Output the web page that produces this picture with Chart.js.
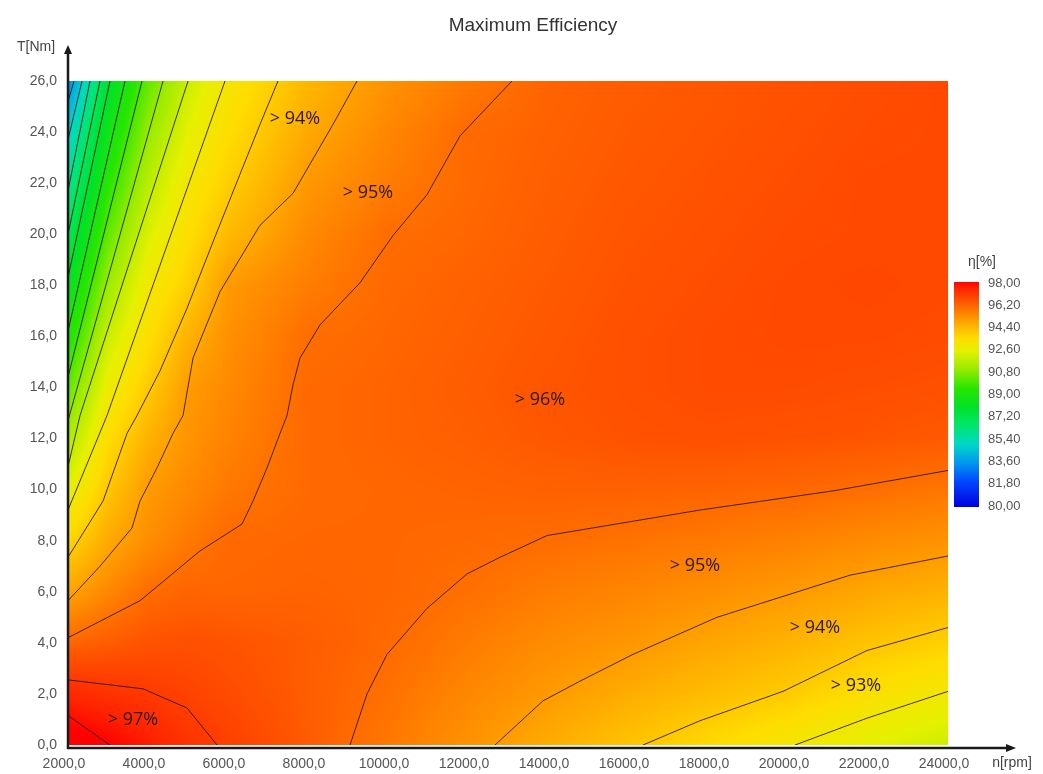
<!DOCTYPE html>
<html>
<head>
<meta charset="utf-8">
<title>Maximum Efficiency</title>
<script src="https://cdn.jsdelivr.net/npm/chart.js@4.4.1/dist/chart.umd.min.js"></script>
<style>
  html, body { margin: 0; padding: 0; background: #fff; }
  #wrap { width: 1043px; height: 774px; }
</style>
</head>
<body>
<div id="wrap"><canvas id="effMap" width="1043" height="774"></canvas></div>
<script>
// grid of the map: speed columns, torque rows
const speedRpm = [2000, 3000, 4000, 5000, 6000, 8000, 10000, 12000, 14000, 16000, 18000, 20000, 22000, 24000];
const torqueNm = [0, 2, 4, 6, 8, 10, 12, 14, 16, 18, 20, 22, 24, 26];

// efficiency [%] per torque row, one value per speed column
const effT0  = [98.3, 98.0, 97.64, 97.2, 96.92, 96.32, 95.74, 95.19, 94.64, 94.10, 93.57, 93.05, 92.5, 92.0];
const effT2  = [97.41, 97.22, 97.05, 96.84, 96.65, 96.28, 95.89, 95.43, 95.03, 94.62, 94.27, 93.91, 93.36, 92.95];
const effT4  = [96.12, 96.3, 96.5, 96.55, 96.48, 96.3, 96.03, 95.67, 95.34, 95.1, 94.79, 94.49, 94.1, 93.76];
const effT6  = [94.79, 95.43, 95.96, 96.15, 96.1, 96.15, 96.1, 95.91, 95.65, 95.48, 95.27, 95.04, 94.75, 94.5];
const effT8  = [93.64, 94.68, 95.29, 95.71, 96.05, 96.1, 96.1, 96.05, 95.97, 95.86, 95.72, 95.56, 95.36, 95.18];
const effT10 = [92.51, 94.03, 95.02, 95.38, 95.74, 96.05, 96.1, 96.15, 96.2, 96.2, 96.15, 96.08, 95.94, 95.78];
const effT12 = [91.38, 93.44, 94.5, 95.16, 95.53, 96.05, 96.15, 96.25, 96.4, 96.5, 96.55, 96.5, 96.45, 96.35];
const effT14 = [90.23, 92.76, 93.91, 95.0, 95.38, 96.05, 96.15, 96.3, 96.45, 96.55, 96.65, 96.65, 96.6, 96.55];
const effT16 = [89.13, 91.96, 93.38, 94.49, 95.23, 95.95, 96.1, 96.25, 96.4, 96.55, 96.65, 96.7, 96.7, 96.65];
const effT18 = [88.15, 91.12, 92.91, 93.82, 95.03, 95.63, 96.05, 96.2, 96.35, 96.5, 96.6, 96.7, 96.75, 96.7];
const effT20 = [87.0, 90.27, 92.27, 93.4, 94.31, 95.38, 95.96, 96.1, 96.3, 96.45, 96.55, 96.65, 96.7, 96.7];
const effT22 = [85.86, 89.44, 91.63, 93.01, 93.82, 95.07, 95.66, 96.05, 96.25, 96.4, 96.5, 96.6, 96.7, 96.7];
const effT24 = [84.8, 88.64, 91.0, 92.47, 93.43, 94.71, 95.44, 96.02, 96.2, 96.35, 96.45, 96.55, 96.65, 96.7];
const effT26 = [83.2, 87.8, 90.3, 92.0, 93.06, 94.38, 95.2, 95.72, 96.15, 96.3, 96.4, 96.5, 96.6, 96.7];
const efficiencyRows = [effT0, effT2, effT4, effT6, effT8, effT10, effT12, effT14, effT16, effT18, effT20, effT22, effT24, effT26];

// iso-efficiency lines, [speed rpm, torque Nm]
const c84 = [[2150, 26], [2000, 25.2]];
const c85 = [[2350, 26], [2000, 23.7]];
const c86 = [[2550, 26], [2000, 21.7]];
const c87 = [[2800, 26], [2000, 20.0]];
const c88 = [[3050, 26], [2000, 18.3]];
const c89 = [[3425, 26], [2000, 16.2]];
const c90 = [[3850, 26], [2000, 14.4]];
const c91 = [[4375, 26], [2000, 12.7]];
const c92 = [[5000, 26], [2300, 12.9], [2000, 10.9]];
const c93 = [[5925, 26], [2975, 12.9], [2000, 9.2]];
const c94Upper = [[7250, 26], [6800, 24.3], [6300, 22.35], [5625, 19.7], [4975, 17.1], [4300, 14.65], [3725, 12.9], [3475, 12.2], [2875, 9.55], [2000, 7.35]];
const c95Upper = [[9225, 26], [8625, 24.3], [7625, 21.6], [6800, 20.35], [5800, 17.75], [5125, 15.15], [4875, 12.9], [4625, 12.2], [4225, 10.85], [3800, 9.55], [3600, 8.5], [2800, 7.0], [2000, 5.65]];
const c96Upper = [[13100, 26], [11800, 23.85], [10975, 21.55], [10125, 19.95], [9300, 18.1], [8300, 16.45], [7800, 15.15], [7625, 14.1], [7475, 12.9], [7300, 12.2], [6975, 10.85], [6625, 9.55], [6350, 8.65], [5300, 7.6], [3800, 5.65], [2000, 4.2]];
const c96Lower = [[24000, 10.75], [21125, 9.95], [17800, 9.2], [13975, 8.2], [12800, 7.35], [11975, 6.7], [10975, 5.35], [9975, 3.55], [9475, 2.0], [9050, 0]];
const c95Lower = [[24000, 7.4], [21550, 6.65], [18225, 5.0], [16125, 3.55], [14800, 2.5], [13875, 1.73], [12675, 0]];
const c94Lower = [[24000, 4.6], [21975, 3.7], [19875, 2.1], [17800, 0.95], [16375, 0]];
const c93Lower = [[24000, 2.1], [21975, 1.05], [20175, 0]];
const c97 = [[2000, 2.55], [3875, 2.2], [4975, 1.45], [5725, 0]];
const c98 = [[2000, 1.15], [3050, 0]];
const contourLines = [c84, c85, c86, c87, c88, c89, c90, c91, c92, c93, c94Upper, c95Upper, c96Upper, c96Lower, c95Lower, c94Lower, c93Lower, c97, c98];

// contour labels
const labelTexts = ['> 94%', '> 95%', '> 96%', '> 97%', '> 95%', '> 94%', '> 93%'];
const labelSpeed = [7675, 9500, 13800, 3625, 17675, 20675, 21700];
const labelTorque = [24.5, 21.6, 13.5, 1.0, 7.0, 4.6, 2.3];

// colour scale
const colorbarTicks = [98, 96.2, 94.4, 92.6, 90.8, 89, 87.2, 85.4, 83.6, 81.8, 80];
const stopValues = [80, 82, 83.5, 85, 86.5, 88, 89.5, 91, 92.5, 93.5, 94.5, 95.5, 96.5, 97.5, 98];
const stopColors = [[0, 0, 220], [0, 70, 255], [0, 150, 240], [0, 215, 200], [0, 230, 110], [0, 225, 40], [40, 230, 0],
    [150, 235, 0], [230, 240, 0], [255, 220, 0], [255, 178, 0], [255, 132, 0], [255, 82, 0], [255, 36, 0], [255, 0, 0]];

function colorFor(v) {
    if (v <= stopValues[0]) return stopColors[0];
    const last = stopValues.length - 1;
    if (v >= stopValues[last]) return stopColors[last];
    let k = 0;
    while (v > stopValues[k + 1]) k++;
    const f = (v - stopValues[k]) / (stopValues[k + 1] - stopValues[k]);
    const a = stopColors[k], b = stopColors[k + 1];
    return [a[0] + (b[0] - a[0]) * f, a[1] + (b[1] - a[1]) * f, a[2] + (b[2] - a[2]) * f];
}

function findIndex(arr, v) {
    let i = 0;
    while (i < arr.length - 2 && v > arr[i + 1]) i++;
    return i;
}

function sampleEfficiency(n, t) {
    const i = findIndex(speedRpm, n);
    const j = findIndex(torqueNm, t);
    const fx = Math.min(1, Math.max(0, (n - speedRpm[i]) / (speedRpm[i + 1] - speedRpm[i])));
    const fy = Math.min(1, Math.max(0, (t - torqueNm[j]) / (torqueNm[j + 1] - torqueNm[j])));
    const r0 = efficiencyRows[j], r1 = efficiencyRows[j + 1];
    const bottom = r0[i] + (r0[i + 1] - r0[i]) * fx;
    const top = r1[i] + (r1[i + 1] - r1[i]) * fx;
    return bottom + (top - bottom) * fy;
}

const commaFmt = (v, d) => Number(v).toFixed(d).replace('.', ',');
const sansFont = '"Liberation Sans", Arial, sans-serif';

//Heatmap under the contour lines
const heatmapPlugin = {
    id: 'heatmap',
    beforeDatasetsDraw(chart) {
        const { ctx, chartArea: a, scales: { x, y } } = chart;
        const w = Math.round(a.right - a.left), h = Math.round(a.bottom - a.top);
        const off = document.createElement('canvas');
        off.width = w;
        off.height = h;
        const octx = off.getContext('2d');
        const img = octx.createImageData(w, h);
        const nAt = [], tAt = [];
        for (let i = 0; i < w; i++) nAt.push(x.getValueForPixel(a.left + i + 0.5));
        for (let j = 0; j < h; j++) tAt.push(y.getValueForPixel(a.top + j + 0.5));
        let p = 0;
        for (let j = 0; j < h; j++) {
            for (let i = 0; i < w; i++) {
                const c = colorFor(sampleEfficiency(nAt[i], tAt[j]));
                img.data[p++] = c[0];
                img.data[p++] = c[1];
                img.data[p++] = c[2];
                img.data[p++] = 255;
            }
        }
        octx.putImageData(img, 0, 0);
        ctx.drawImage(off, a.left, a.top);
    }
};

//Labels, axes with arrows, title and colour bar
const decorPlugin = {
    id: 'decor',
    afterDatasetsDraw(chart) {
        const { ctx, scales: { x, y } } = chart;
        ctx.save();
        ctx.fillStyle = '#2a1a0a';
        ctx.font = '18px "Open Sans", sans-serif';
        ctx.textAlign = 'center';
        ctx.textBaseline = 'middle';
        labelTexts.forEach((txt, k) => {
            ctx.fillText(txt, x.getPixelForValue(labelSpeed[k]), y.getPixelForValue(labelTorque[k]));
        });
        ctx.restore();
    },
    afterDraw(chart) {
        const { ctx, chartArea: a } = chart;
        ctx.save();

        //Axes
        const axisY = a.bottom + 3;
        ctx.strokeStyle = '#1a1a1a';
        ctx.fillStyle = '#1a1a1a';
        ctx.lineWidth = 2.5;
        ctx.beginPath();
        ctx.moveTo(a.left, axisY + 1);
        ctx.lineTo(a.left, 52);
        ctx.moveTo(a.left - 1, axisY);
        ctx.lineTo(1008, axisY);
        ctx.stroke();
        ctx.beginPath();
        ctx.moveTo(a.left - 4, 54);
        ctx.lineTo(a.left + 4, 54);
        ctx.lineTo(a.left, 45);
        ctx.closePath();
        ctx.fill();
        ctx.beginPath();
        ctx.moveTo(1006, axisY - 4);
        ctx.lineTo(1006, axisY + 4);
        ctx.lineTo(1016, axisY);
        ctx.closePath();
        ctx.fill();

        //Title and axis names
        ctx.fillStyle = '#333';
        ctx.textBaseline = 'middle';
        ctx.textAlign = 'center';
        ctx.font = '19px ' + sansFont;
        ctx.fillText('Maximum Efficiency', 533, 26);
        ctx.font = '14px ' + sansFont;
        ctx.fillStyle = '#444';
        ctx.fillText('T[Nm]', 36, 47);
        ctx.fillText('n[rpm]', 1012, 763);

        //Colour bar
        const cbX = 954, cbTop = 282, cbW = 25, cbH = 225;
        const vMax = colorbarTicks[0], vMin = colorbarTicks[colorbarTicks.length - 1];
        for (let j = 0; j < cbH; j++) {
            const v = vMax - (j + 0.5) / cbH * (vMax - vMin);
            const c = colorFor(v);
            ctx.fillStyle = 'rgb(' + Math.round(c[0]) + ',' + Math.round(c[1]) + ',' + Math.round(c[2]) + ')';
            ctx.fillRect(cbX, cbTop + j, cbW, 1);
        }
        ctx.fillStyle = '#555';
        ctx.textAlign = 'left';
        ctx.font = '13px ' + sansFont;
        colorbarTicks.forEach(v => {
            const py = cbTop + 1 + (vMax - v) / (vMax - vMin) * (cbH - 2);
            ctx.fillText(commaFmt(v, 2), 988, py);
        });
        ctx.fillStyle = '#444';
        ctx.font = '14px ' + sansFont;
        ctx.fillText('η[%]', 968, 262);
        ctx.restore();
    }
};

const datasets = contourLines.map(pts => ({
    data: pts.map(p => ({ x: p[0], y: p[1] })),
    showLine: true,
    pointRadius: 0,
    borderColor: 'rgba(35, 20, 5, 0.85)',
    borderWidth: 1,
    tension: 0,
    fill: false
}));

new Chart(document.getElementById('effMap'), {
    type: 'scatter',
    data: { datasets: datasets },
    options: {
        responsive: false,
        animation: false,
        layout: { padding: { top: 81, left: 0, right: 95, bottom: 0 } },
        plugins: {
            legend: { display: false },
            title: { display: false },
            tooltip: { enabled: false }
        },
        scales: {
            x: {
                type: 'linear',
                min: 2000,
                max: 24000,
                grid: { display: false, drawTicks: false },
                border: { display: false },
                afterFit: scale => { scale.height = 29; },
                ticks: {
                    stepSize: 2000,
                    autoSkip: false,
                    maxRotation: 0,
                    padding: 11,
                    labelOffset: -4,
                    color: '#555',
                    font: { family: sansFont, size: 14 },
                    callback: v => commaFmt(v, 1)
                }
            },
            y: {
                type: 'linear',
                min: 0,
                max: 26,
                grid: { display: false, drawTicks: false },
                border: { display: false },
                afterFit: scale => { scale.width = 68; },
                ticks: {
                    stepSize: 2,
                    autoSkip: false,
                    padding: 11,
                    color: '#555',
                    font: { family: sansFont, size: 14 },
                    callback: v => commaFmt(v, 1)
                }
            }
        }
    },
    plugins: [heatmapPlugin, decorPlugin]
});
</script>
</body>
</html>
